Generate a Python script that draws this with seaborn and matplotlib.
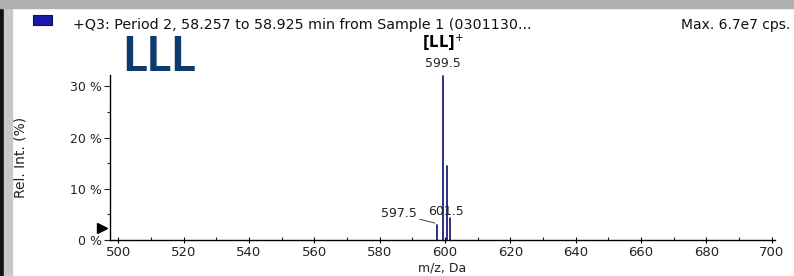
import matplotlib
matplotlib.use("Agg")
import matplotlib.pyplot as plt
import matplotlib.patches as mpatches
from matplotlib.ticker import MultipleLocator, FuncFormatter
import seaborn as sns
import pandas as pd

# ---- data ----
peak_mz = [597.5, 599.5, 600.5, 601.5]
peak_int = [3.0, 32.0, 14.5, 4.3]
xticks = [500, 520, 540, 560, 580, 600, 620, 640, 660, 680, 700]
yticks = [0, 10, 20, 30]
title_text = "+Q3: Period 2, 58.257 to 58.925 min from Sample 1 (0301130..."
max_text = "Max. 6.7e7 cps."

sns.set_style("white")
plt.rcParams['font.family'] = ['DejaVu Sans']

rows = []
for i, (m, v) in enumerate(zip(peak_mz, peak_int)):
    rows.append({"mz": m, "int": 0.0, "peak": i})
    rows.append({"mz": m, "int": v, "peak": i})
df = pd.DataFrame(rows)

fig = plt.figure(figsize=(7.94, 2.76), dpi=100)
W, H = 794, 276
ax = fig.add_axes([110 / W, (H - 240) / H, 665 / W, 165 / H])

navy = "#1f1f80"
sns.lineplot(data=df, x="mz", y="int", units="peak", estimator=None,
             color=navy, lw=1.3, ax=ax, legend=False, sort=False)

ax.set_xlim(497.5, 701)
ax.set_ylim(0, 32.2)
ax.xaxis.set_minor_locator(MultipleLocator(10))
ax.yaxis.set_minor_locator(MultipleLocator(5))
ax.set_xticks(xticks)
ax.set_yticks(yticks)
ax.yaxis.set_major_formatter(FuncFormatter(lambda v, p: f"{int(v)} %"))
for s in ["top", "right"]:
    ax.spines[s].set_visible(False)
for s in ["left", "bottom"]:
    ax.spines[s].set_color("black")
    ax.spines[s].set_linewidth(1.0)
ax.tick_params(axis="x", which="major", direction="inout", length=5, width=0.8,
               labelsize=9.5, colors="black", labelcolor="#222222", pad=1.5, bottom=True)
ax.tick_params(axis="x", which="minor", direction="in", length=2.5, width=0.8, bottom=True)
ax.tick_params(axis="y", which="major", direction="out", length=4, width=0.8,
               labelsize=9, labelcolor="#222222", pad=2, left=True)
ax.tick_params(axis="y", which="minor", direction="out", length=2.5, width=0.8, left=True)
ax.set_xlabel("m/z, Da", fontsize=9, color="#222222", labelpad=2)
ax.set_ylabel("Rel. Int. (%)", fontsize=10, color="#222222")
ax.yaxis.set_label_coords((28 - 110) / 665, 0.5)
ax.patch.set_alpha(0)

# peak annotations
ax.text(599.5, 33.2, "599.5", ha="center", va="bottom", fontsize=9, color="#222222", clip_on=False)
ax.text(599.5, 36.4, r"[LL]$^{+}$", ha="center", va="bottom", fontsize=10.5,
        fontweight="bold", color="black", clip_on=False)
ax.annotate("597.5", xy=(596.9, 3.3), xytext=(591.3, 5.1), ha="right", va="center",
            fontsize=9, color="#222222",
            arrowprops=dict(arrowstyle="-", color="#444444", lw=0.7, shrinkA=0, shrinkB=0))
ax.text(600.2, 5.6, "601.5", ha="center", va="center", fontsize=9, color="#222222")

# triangle marker on left
ax.plot([-0.012], [2.3], marker=">", color="black", markersize=7,
        transform=ax.get_yaxis_transform(), clip_on=False)

# header texts
fig.text(73 / W, 1 - 25 / H, title_text, ha="left", va="center", fontsize=10.3, color="#111111")
fig.text(790 / W, 1 - 25 / H, max_text, ha="right", va="center", fontsize=10, color="#111111")
fig.text(122 / W, 1 - 71 / H, "LLL", ha="left", va="baseline", fontsize=34,
         fontweight="bold", color="#0d3b6e", family=["Lato", "DejaVu Sans"])

# window chrome
fig.patches.append(mpatches.Rectangle((0, 0), 4 / W, 1, transform=fig.transFigure,
                                      color="#111111", zorder=0))
fig.patches.append(mpatches.Rectangle((4 / W, 0), 8 / W, 1, transform=fig.transFigure,
                                      color="#c8c8c8", zorder=0))
fig.patches.append(mpatches.Rectangle((0, 1 - 8 / H), 1, 8 / H, transform=fig.transFigure,
                                      color="#b0b0b0", zorder=0))
fig.patches.append(mpatches.Rectangle((33 / W, 1 - 25 / H), 19 / W, 10 / H, transform=fig.transFigure,
                                      facecolor="#1a1aa8", edgecolor="#101060", lw=0.8, zorder=1))

fig.savefig("out.png", dpi=100)
